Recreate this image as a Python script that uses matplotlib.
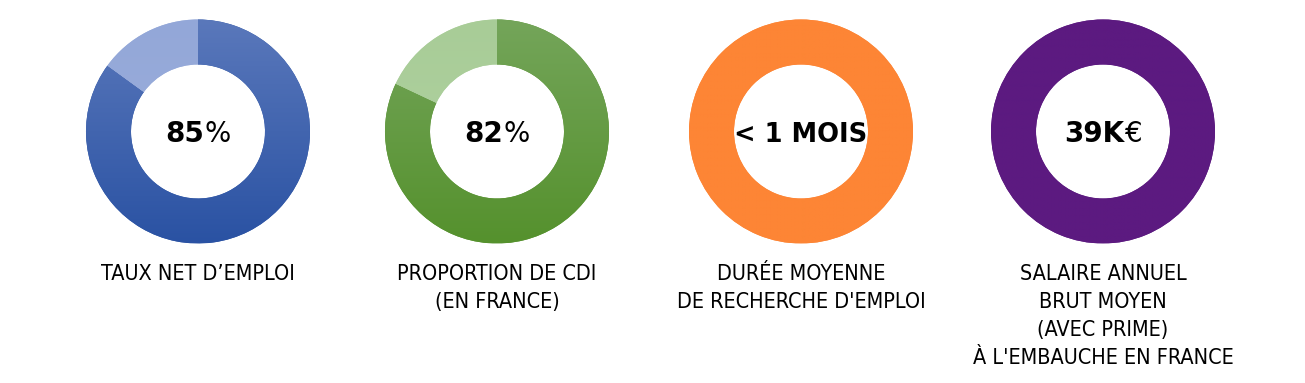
import numpy as np
import matplotlib.pyplot as plt
from matplotlib.colors import to_rgb

# donut values (share of the ring that is "filled")
values = [[85, 15], [82, 18], [100], [100]]
centre_main = ["85", "82", "< 1 MOIS", "39K"]
centre_unit = ["%", "%", "", "€"]
labels = [
    "TAUX NET D’EMPLOI",
    "PROPORTION DE CDI\n(EN FRANCE)",
    "DURÉE MOYENNE\nDE RECHERCHE D'EMPLOI",
    "SALAIRE ANNUEL\nBRUT MOYEN\n(AVEC PRIME)\nÀ L'EMBAUCHE EN FRANCE",
]
# (top colour, bottom colour) for every wedge
colours = [
    [("#5a78bb", "#2a52a3"), ("#93a7d8", "#9fb2dd")],
    [("#74a55a", "#55912d"), ("#a8cc97", "#b2d3a3")],
    [("#fd8535", "#fd8535")],
    [("#5c1a80", "#5c1a80")],
]

W, H = 1305, 383
centres_x = [198, 497, 801, 1103]
cy = 131.5
r_out, r_in = 112, 67

fig = plt.figure(figsize=(W / 100, H / 100), dpi=100)
ax = fig.add_axes([0, 0, 1, 1])


def vgrad(top, bot, n=256):
    t = np.linspace(0, 1, n)[:, None]
    a, b = np.array(to_rgb(top)), np.array(to_rgb(bot))
    return (a * (1 - t) + b * t)[:, None, :]


pairs = []
for i, cx in enumerate(centres_x):
    # y axis is flipped below, so start at -90 and go counterclockwise in data
    wedges, _ = ax.pie(values[i], center=(cx, cy), radius=r_out,
                       startangle=-90, counterclock=True,
                       colors=[c[1] for c in colours[i]],
                       wedgeprops=dict(width=r_out - r_in, linewidth=0),
                       frame=True)
    for w, (top, bot) in zip(wedges, colours[i]):
        im = ax.imshow(vgrad(top, bot), extent=[cx - r_out, cx + r_out, cy + r_out, cy - r_out],
                       aspect="auto", interpolation="bilinear", zorder=2)
        im.set_clip_path(w)

    size = 20 if centre_unit[i] else 18.5
    ty = cy + 2 if centre_unit[i] else cy + 4
    t = ax.text(cx, ty, centre_main[i], ha="center", va="center",
                fontsize=size, fontweight="bold", family=["DejaVu Sans"], color="black", zorder=3)
    u = None
    if centre_unit[i]:
        u = ax.annotate(centre_unit[i], xy=(1, 0.5), xycoords=t, xytext=(0.5, 0),
                        textcoords="offset points", ha="left", va="center",
                        fontsize=size, family=["DejaVu Sans"], color="black", zorder=3)
    pairs.append((t, u, cx, ty))

    ax.text(cx, 264, labels[i], ha="center", va="top", fontsize=15.5,
            family=["DejaVu Sans"], fontstretch="condensed", linespacing=1.5, color="black")

ax.set_xlim(0, W)
ax.set_ylim(H, 0)
ax.set_aspect("equal")
ax.axis("off")

# shift each number so that number + unit together sit centred in the ring
fig.canvas.draw()
r = fig.canvas.get_renderer()
for t, u, cx, ty in pairs:
    if u is None:
        continue
    wu = u.get_window_extent(r).width + 0.7
    t.set_position((cx - wu / 2, ty))

fig.savefig("out.png", dpi=100, facecolor="white")
